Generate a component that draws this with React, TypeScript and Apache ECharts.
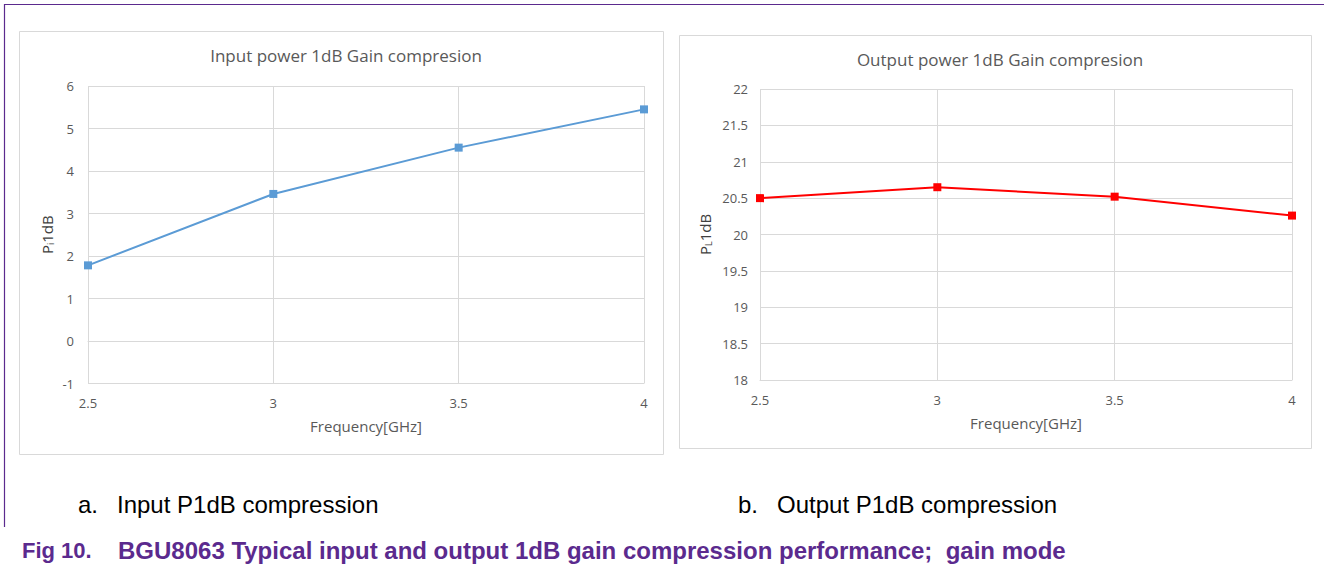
import React, { useEffect, useRef } from "react";
import * as echarts from "echarts";

const freqTicks = [2.5, 3, 3.5, 4];
const inputP1dB = [1.78, 3.46, 4.55, 5.45];
const outputP1dB = [20.5, 20.65, 20.52, 20.26];
const titleLeft = "Input power 1dB Gain compresion";
const titleRight = "Output power 1dB Gain compresion";
const xName = "Frequency[GHz]";
const captionA = ["a.", "Input P1dB compression"];
const captionB = ["b.", "Output P1dB compression"];
const figLabel = "Fig 10.";
const figCaption = "BGU8063 Typical input and output 1dB gain compression performance;  gain mode";

const FONT = "'Open Sans', 'Noto Sans', sans-serif";
const GRID_C = "#d9d9d9";
const LABEL_C = "#595959";
const PURPLE = "#5b2a8e";
const CAP_FONT = "24px 'Liberation Sans', Arial, sans-serif";
const FIG_FONT = "bold 24px 'Liberation Sans', Arial, sans-serif";
const FIG_LABEL_FONT = "bold 22px 'Liberation Sans', Arial, sans-serif";

export default function App() {
  const ref = useRef<HTMLDivElement>(null);
  useEffect(() => {
    if (!ref.current) return;
    const chart = echarts.init(ref.current, undefined, { renderer: "svg" });
    const xAxisBase = (gridIndex: number) => ({
      type: "value",
      gridIndex,
      min: 2.5,
      max: 4,
      interval: 0.5,
      name: xName,
      nameLocation: "middle",
      nameGap: 35,
      nameTextStyle: { color: LABEL_C, fontSize: 15, fontFamily: FONT },
      axisLine: { show: true, lineStyle: { color: GRID_C, width: 1 } },
      axisTick: { show: false },
      axisLabel: { color: LABEL_C, fontSize: 13, fontFamily: FONT, margin: 13 },
      splitLine: { show: true, lineStyle: { color: GRID_C, width: 1 } },
    });
    const yRich = (sub: string) => ({
      name: `{a|P}{b|${sub}}{a|1dB}`,
      nameLocation: "middle",
      nameRotate: 90,
      nameTextStyle: {
        rich: {
          a: { fontSize: 15, color: "#404040", fontFamily: FONT },
          b: { fontSize: 9, color: "#404040", fontFamily: FONT, verticalAlign: "bottom", padding: [7, 0, 0, 0] },
        },
      },
    });
    const yLabel = { color: LABEL_C, fontSize: 13, fontFamily: FONT };
    chart.setOption({
      animation: false,
      backgroundColor: "#ffffff",
      title: [
        {
          text: titleLeft,
          left: 341,
          top: 42,
          textAlign: "center",
          textStyle: { color: LABEL_C, fontSize: 17, fontWeight: "normal", fontFamily: FONT },
        },
        {
          text: titleRight,
          left: 995,
          top: 46,
          textAlign: "center",
          textStyle: { color: LABEL_C, fontSize: 17, fontWeight: "normal", fontFamily: FONT },
        },
      ],
      graphic: [
        { type: "line", z: -1, shape: { x1: 4, y1: 4.5, x2: 1324, y2: 4.5 }, style: { stroke: PURPLE, lineWidth: 1.2 } },
        { type: "line", z: -1, shape: { x1: 4.5, y1: 4, x2: 4.5, y2: 527 }, style: { stroke: PURPLE, lineWidth: 1.2 } },
        { type: "rect", z: -1, shape: { x: 19.5, y: 31.5, width: 644, height: 423 }, style: { fill: "#fff", stroke: GRID_C, lineWidth: 1 } },
        { type: "rect", z: -1, shape: { x: 679.5, y: 35.5, width: 632, height: 413 }, style: { fill: "#fff", stroke: GRID_C, lineWidth: 1 } },
        { type: "text", x: 78, y: 504, style: { text: captionA[0], font: CAP_FONT, fill: "#000", textVerticalAlign: "middle" } },
        { type: "text", x: 117, y: 504, style: { text: captionA[1], font: CAP_FONT, fill: "#000", textVerticalAlign: "middle" } },
        { type: "text", x: 738, y: 504, style: { text: captionB[0], font: CAP_FONT, fill: "#000", textVerticalAlign: "middle" } },
        { type: "text", x: 777, y: 504, style: { text: captionB[1], font: CAP_FONT, fill: "#000", textVerticalAlign: "middle" } },
        { type: "text", x: 22, y: 550, style: { text: figLabel, font: FIG_LABEL_FONT, fill: PURPLE, textVerticalAlign: "middle" } },
        { type: "text", x: 118, y: 550, style: { text: figCaption, font: FIG_FONT, fill: PURPLE, textVerticalAlign: "middle" } },
      ],
      grid: [
        { left: 88, top: 86, width: 556, height: 297.5 },
        { left: 760, top: 89, width: 532, height: 291 },
      ],
      xAxis: [xAxisBase(0), xAxisBase(1)],
      yAxis: [
        {
          type: "value",
          gridIndex: 0,
          min: -1,
          max: 6,
          interval: 1,
          nameGap: 33,
          ...yRich("i"),
          axisLine: { show: false },
          axisTick: { show: false },
          axisLabel: { ...yLabel, margin: 14 },
          splitLine: { show: true, lineStyle: { color: GRID_C, width: 1 } },
        },
        {
          type: "value",
          gridIndex: 1,
          min: 18,
          max: 22,
          interval: 0.5,
          nameGap: 47,
          ...yRich("L"),
          axisLine: { show: false },
          axisTick: { show: false },
          axisLabel: { ...yLabel, margin: 12 },
          splitLine: { show: true, lineStyle: { color: GRID_C, width: 1 } },
        },
      ],
      series: [
        {
          type: "line",
          xAxisIndex: 0,
          yAxisIndex: 0,
          data: freqTicks.map((f, i) => [f, inputP1dB[i]]),
          symbol: "rect",
          symbolSize: 8,
          lineStyle: { color: "#5b9bd5", width: 2 },
          itemStyle: { color: "#5b9bd5" },
        },
        {
          type: "line",
          xAxisIndex: 1,
          yAxisIndex: 1,
          data: freqTicks.map((f, i) => [f, outputP1dB[i]]),
          symbol: "rect",
          symbolSize: 8,
          lineStyle: { color: "#ff0000", width: 2 },
          itemStyle: { color: "#ff0000" },
        },
      ],
    });
    return () => chart.dispose();
  }, []);
  return <div ref={ref} style={{ position: "absolute", left: 0, top: 0, width: 1324, height: 571 }} />;
}
